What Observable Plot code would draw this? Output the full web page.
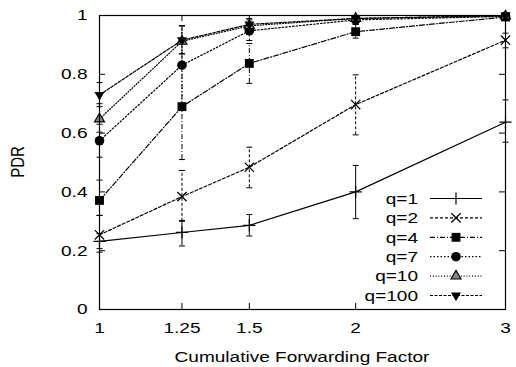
<!DOCTYPE html>
<html><head><meta charset="utf-8">
<script src="https://cdn.jsdelivr.net/npm/d3@7"></script>
<script src="https://cdn.jsdelivr.net/npm/@observablehq/plot@0.6"></script>
<style>body{margin:0;background:#fff}#chart{width:516px;height:367px}</style>
</head><body><div id="chart"></div>
<script>
// ---- data ----
const factors = [1, 1.25, 1.5, 2, 3];
const factorLabels = ["1", "1.25", "1.5", "2", "3"];
const yTicks = [0, 0.2, 0.4, 0.6, 0.8, 1];
const yTickLabels = ["0", "0.2", "0.4", "0.6", "0.8", "1"];
const seriesNames = ["q=1", "q=2", "q=4", "q=7", "q=10", "q=100"];
const pdr_q1 = [0.232, 0.262, 0.286, 0.400, 0.637];
const lo_q1  = [0.207, 0.216, 0.250, 0.309, 0.569];
const hi_q1  = [0.258, 0.303, 0.323, 0.490, 0.713];
const pdr_q2 = [0.254, 0.384, 0.484, 0.697, 0.916];
const lo_q2  = [0.195, 0.300, 0.414, 0.594, 0.890];
const hi_q2  = [0.320, 0.473, 0.552, 0.798, 0.940];
const pdr_q4 = [0.371, 0.690, 0.837, 0.945, 0.995];
const lo_q4  = [0.320, 0.510, 0.769, 0.923, 0.985];
const hi_q4  = [0.440, 0.870, 0.905, 0.970, 1.000];
const pdr_q7 = [0.574, 0.831, 0.948, 0.985, 0.997];
const lo_q7  = [0.518, 0.700, 0.915, 0.970, 0.990];
const hi_q7  = [0.630, 0.965, 0.975, 0.995, 1.000];
const pdr_q10 = [0.648, 0.912, 0.965, 0.990, 0.998];
const lo_q10  = [0.603, 0.870, 0.940, 0.980, 0.990];
const hi_q10  = [0.690, 0.965, 0.985, 1.000, 1.000];
const pdr_q100 = [0.730, 0.916, 0.970, 0.990, 1.000];
const lo_q100  = [0.700, 0.870, 0.950, 0.980, 0.995];
const hi_q100  = [0.772, 0.965, 0.990, 1.000, 1.000];
const xTitle = "Cumulative Forwarding Factor";
const yTitle = "PDR";

// ---- styles ----
const W = 516, H = 367;
const ML = 99, MR = 11, MT = 15, MB = 58;
const SX = 1.27; // horizontal text stretch
const FONT = "'Liberation Sans', Arial, sans-serif";
const styles = [
  {dash: null,        symbol: "plus",     r: 4.0, fill: "none", stroke: "black"},
  {dash: "3,2",       symbol: "times",    r: 4.3, fill: "none", stroke: "black"},
  {dash: "5,2,1,2",   symbol: "square",   r: 5.0, fill: "black", stroke: "none"},
  {dash: "1.5,2",     symbol: "circle",   r: 4.8, fill: "black", stroke: "none"},
  {dash: "1,1.8",     symbol: "triangle", r: 3.7, fill: "#888", stroke: "black"},
  {dash: "3,1.5",     symbol: "triangle", r: 3.7, fill: "black", stroke: "none", rotate: 180}
];
const cap = {draw(ctx) { ctx.moveTo(-3, 0); ctx.lineTo(3, 0); }};

const series = [
  [pdr_q1, lo_q1, hi_q1], [pdr_q2, lo_q2, hi_q2], [pdr_q4, lo_q4, hi_q4],
  [pdr_q7, lo_q7, hi_q7], [pdr_q10, lo_q10, hi_q10], [pdr_q100, lo_q100, hi_q100]
];

const plotH = H - MT - MB, plotW = W - ML - MR;
const marks = [];
// inward ticks (frame-relative)
marks.push(Plot.ruleX(factors, {x: d => d, insetTop: plotH - 6, stroke: "black"}));
marks.push(Plot.ruleX(factors, {x: d => d, insetBottom: plotH - 6, stroke: "black"}));
marks.push(Plot.ruleY(yTicks, {y: d => d, insetRight: plotW - 6, stroke: "black"}));
marks.push(Plot.ruleY(yTicks, {y: d => d, insetLeft: plotW - 6, stroke: "black"}));

series.forEach(([v, lo, hi], i) => {
  const st = styles[i];
  const rows = factors.map((f, j) => ({f, v: v[j], lo: lo[j], hi: hi[j]}));
  marks.push(Plot.ruleX(rows, {x: "f", y1: "lo", y2: "hi", stroke: "black", strokeWidth: 1, strokeDasharray: st.dash}));
  marks.push(Plot.dot(rows, {x: "f", y: "lo", symbol: cap, r: 3, stroke: "black", fill: "none", strokeWidth: 1}));
  marks.push(Plot.dot(rows, {x: "f", y: "hi", symbol: cap, r: 3, stroke: "black", fill: "none", strokeWidth: 1}));
  marks.push(Plot.line(rows, {x: "f", y: "v", stroke: "black", strokeWidth: 1.2, strokeDasharray: st.dash}));
  marks.push(Plot.dot(rows, {x: "f", y: "v", symbol: st.symbol, r: st.r, fill: st.fill,
    stroke: st.stroke, strokeWidth: 1.2, rotate: st.rotate || 0}));
});

marks.push(Plot.frame({stroke: "black", strokeWidth: 1.2}));
marks.push(Plot.axisX(factors, {tickSize: 0, tickPadding: 13, label: null,
  tickFormat: d => factorLabels[factors.indexOf(d)], fontSize: 15}));
marks.push(Plot.axisY(yTicks, {tickSize: 0, tickPadding: 12, label: null,
  tickFormat: d => yTickLabels[yTicks.indexOf(d)], fontSize: 15}));

const plot = Plot.plot({
  width: W, height: H,
  marginLeft: ML, marginRight: MR, marginTop: MT, marginBottom: MB,
  style: {fontFamily: FONT, fontSize: "15px", color: "black", background: "white"},
  x: {type: "log", domain: [1, 3]},
  y: {type: "linear", domain: [0, 1]},
  marks
});

// ---- titles & legend ----
const svg = d3.select(plot);
svg.append("text").attr("transform", `translate(${ML + plotW / 2},${H - 5}) scale(${SX},1)`)
  .attr("text-anchor", "middle").attr("font-size", 15).attr("fill", "black").text(xTitle);
svg.append("text").attr("transform", `translate(24,${MT + plotH / 2}) rotate(-90) scale(1,${SX})`)
  .attr("text-anchor", "middle").attr("font-size", 15).attr("fill", "black").text(yTitle);

const symMap = {plus: d3.symbolPlus, times: d3.symbolTimes, square: d3.symbolSquare,
  circle: d3.symbolCircle, triangle: d3.symbolTriangle};
const lg = svg.append("g");
const LX = 418, LL0 = 430, LL1 = 482, LY0 = 198.5, LDY = 19.4;
seriesNames.forEach((name, i) => {
  const st = styles[i], y = LY0 + i * LDY;
  lg.append("text").attr("transform", `translate(${LX},${y}) scale(${SX},1)`)
    .attr("dy", "0.35em").attr("text-anchor", "end").attr("font-size", 15).attr("fill", "black").text(name);
  lg.append("line").attr("x1", LL0).attr("x2", LL1).attr("y1", y).attr("y2", y)
    .attr("stroke", "black").attr("stroke-width", 1.2).attr("stroke-dasharray", st.dash);
  lg.append("path").attr("d", d3.symbol(symMap[st.symbol], Math.PI * st.r * st.r)())
    .attr("transform", `translate(${(LL0 + LL1) / 2},${y}) rotate(${st.rotate || 0})`)
    .attr("fill", st.fill).attr("stroke", st.stroke).attr("stroke-width", 1.2);
});

// stretch Plot's axis text horizontally like the reference
svg.selectAll("g[aria-label$='tick label'] text").each(function() {
  const t = this.getAttribute("transform");
  if (t) this.setAttribute("transform", t + ` scale(${SX},1)`);
});

document.getElementById("chart").appendChild(plot);
</script></body></html>
